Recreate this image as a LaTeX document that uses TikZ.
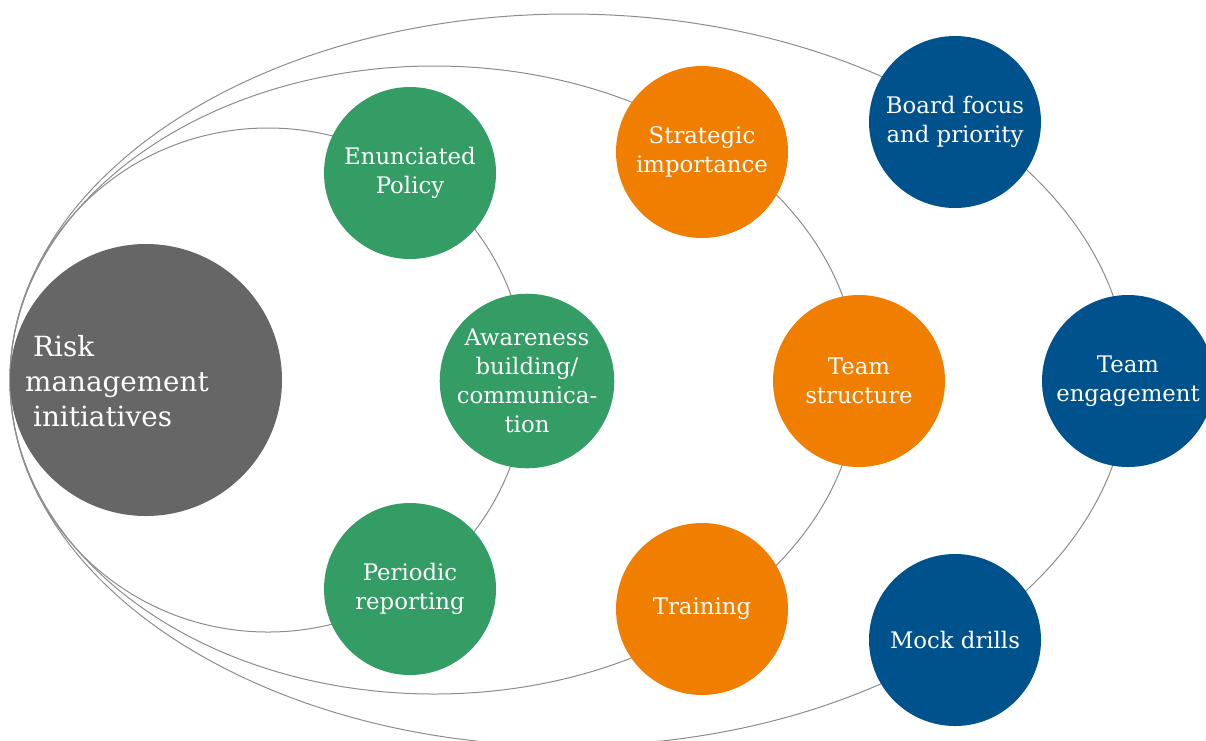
\documentclass[tikz,border=0pt]{standalone}
\usepackage{fontspec}
\setmainfont{DejaVu Serif}
\definecolor{riskgray}{HTML}{666666}
\definecolor{ringgray}{HTML}{8C8C8C}
\definecolor{polgreen}{HTML}{349C65}
\definecolor{stratorange}{HTML}{F07E00}
\definecolor{boardblue}{HTML}{00528C}
\begin{document}
\begin{tikzpicture}[x=1pt, y=-1pt,
    ring/.style={draw=ringgray, line width=1pt},
    bubble/.style={circle, minimum size=172, inner sep=0pt, text=white,
      align=center, font=\fontsize{22.8}{29}\selectfont},
    green bubble/.style={bubble, fill=polgreen},
    orange bubble/.style={bubble, fill=stratorange},
    blue bubble/.style={bubble, fill=boardblue}]
  % Cornice
  \clip (0,0) rectangle (1206,740);

  % Ellissi
  \draw[ring] (268,380) ellipse [x radius=258, y radius=252];
  \draw[ring] (434,380) ellipse [x radius=424, y radius=314];
  \draw[ring] (569,380) ellipse [x radius=559, y radius=366];

  % Cerchio centrale
  \node[circle, minimum size=272, inner sep=0pt, fill=riskgray] (risk) at (146,380) {};
  \node[anchor=west, align=left, text=white, inner sep=0pt,
    font=\fontsize{27.8}{35}\selectfont] (risklabel) at (25,381)
    {\hspace*{8pt}Risk\\management\\\hspace*{8pt}initiatives};

  % Primo anello
  \node[green bubble] (policy) at (410,173) {Enunciated\\Policy};
  \node[green bubble] (aware) at (527,381) {Awareness\\building/\\communica-\\tion};
  \node[green bubble] (report) at (410,589) {Periodic\\reporting};

  % Secondo anello
  \node[orange bubble] (strat) at (702,152) {Strategic\\importance};
  \node[orange bubble] (team) at (859,381) {Team\\structure};
  \node[orange bubble] (train) at (702,609) {Training};

  % Terzo anello
  \node[blue bubble] (board) at (955,122) {Board focus\\and priority};
  \node[blue bubble] (engage) at (1128,381) {Team\\engagement};
  \node[blue bubble] (drills) at (955,640) {Mock drills};
\end{tikzpicture}
\end{document}
